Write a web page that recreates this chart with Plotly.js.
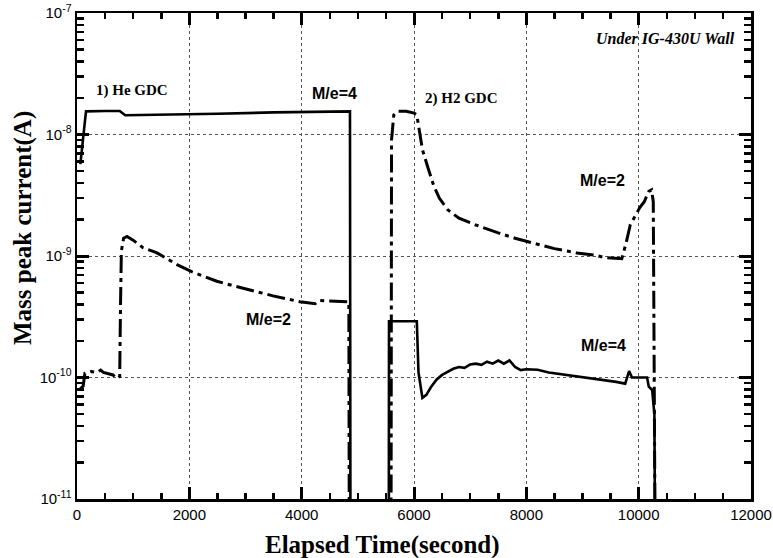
<!DOCTYPE html>
<html>
<head>
<meta charset="utf-8">
<script src="https://cdn.plot.ly/plotly-3.0.1.min.js"></script>
<style>html,body{margin:0;padding:0;background:#fff;}#chart{width:773px;height:558px;}</style>
</head>
<body>
<div id="chart"></div>
<script>
// M/e=4 (solid) : time (s) and current (A); null separates the He and H2 phases
const timeM4 = [60, 110, 160, 500, 760, 860, 1500, 2500, 3500, 4300, 4860, 4870, null,
  5550, 5555, 6050, 6080, 6150, 6220, 6300, 6400, 6500, 6600, 6700, 6800, 6900, 7000, 7100,
  7200, 7300, 7400, 7500, 7600, 7700, 7800, 7900, 8000, 8200, 8400, 8600, 8800, 9000, 9200,
  9400, 9600, 9760, 9830, 9880, 10150, 10180, 10240, 10280, 10300];
const currM4 = [5.7e-9, 9e-9, 1.55e-8, 1.56e-8, 1.56e-8, 1.44e-8, 1.45e-8, 1.48e-8, 1.52e-8, 1.54e-8, 1.55e-8, 1e-12, null,
  1e-12, 2.9e-10, 2.9e-10, 1.1e-10, 6.8e-11, 7.2e-11, 8.3e-11, 9.6e-11, 1.05e-10, 1.12e-10, 1.18e-10, 1.22e-10, 1.2e-10, 1.28e-10, 1.3e-10,
  1.27e-10, 1.35e-10, 1.3e-10, 1.38e-10, 1.3e-10, 1.38e-10, 1.22e-10, 1.15e-10, 1.17e-10, 1.16e-10, 1.1e-10, 1.07e-10, 1.04e-10, 1.0e-10, 9.8e-11,
  9.5e-11, 9.2e-11, 8.9e-11, 1.13e-10, 1.0e-10, 1.0e-10, 8.4e-11, 7.9e-11, 5e-11, 1e-12];

// M/e=2 (dash-dot)
const timeM2 = [50, 110, 140, 250, 350, 420, 470, 640, 710, 760, 775, 790, 830, 890, 1000, 1175, 1425, 1780,
  2050, 2490, 2780, 3260, 3490, 3970, 4240, 4300, 4680, 4840, 4850, null,
  5590, 5600, 5640, 5700, 5860, 6000, 6050, 6100, 6150, 6250, 6350, 6450, 6600, 6800, 7100, 7500, 7800,
  8200, 8500, 8900, 9200, 9400, 9600, 9700, 9780, 9850, 9930, 10020, 10100, 10180, 10230, 10260, 10300];
const currM2 = [8e-11, 8.5e-11, 1.08e-10, 1.12e-10, 1.1e-10, 1.15e-10, 1.1e-10, 1.05e-10, 9.8e-11, 1.02e-10, 4e-10, 1.1e-9, 1.4e-9, 1.45e-9, 1.35e-9, 1.17e-9, 1.06e-9, 8.5e-10,
  7.4e-10, 6.2e-10, 5.7e-10, 5.0e-10, 4.7e-10, 4.2e-10, 4.05e-10, 4.3e-10, 4.2e-10, 4.2e-10, 1e-12, null,
  1e-12, 9e-9, 1.45e-8, 1.55e-8, 1.55e-8, 1.5e-8, 1.45e-8, 1.0e-8, 7.5e-9, 5.3e-9, 3.8e-9, 3.0e-9, 2.4e-9, 2.05e-9, 1.8e-9, 1.55e-9, 1.4e-9,
  1.25e-9, 1.15e-9, 1.06e-9, 1.02e-9, 9.7e-10, 9.5e-10, 9.5e-10, 1.3e-9, 1.8e-9, 2.1e-9, 2.5e-9, 2.8e-9, 3.4e-9, 3.5e-9, 2.8e-9, 1e-12];

// axis ticks
const xTickVals = [0, 2000, 4000, 6000, 8000, 10000, 12000];
const xTickText = ['0', '2000', '4000', '6000', '8000', '10000', '12000'];
const yTickVals = [1e-11, 1e-10, 1e-9, 1e-8, 1e-7];
const yTickText = ['10<sup>-11</sup>', '10<sup>-10</sup>', '10<sup>-9</sup>', '10<sup>-8</sup>', '10<sup>-7</sup>'];
const xMinorVals = [];
for (let v = 500; v < 12000; v += 500) if (v % 2000 !== 0) xMinorVals.push(v);
const yMinorVals = [];
[-11, -10, -9, -8].forEach(e => { for (let m = 2; m <= 9; m++) yMinorVals.push(m * Math.pow(10, e)); });

const sans = 'Liberation Sans, Arial, sans-serif';
const serif = 'Liberation Serif, Times New Roman, serif';

const traces = [
  {x: timeM4, y: currM4, type: 'scatter', mode: 'lines', connectgaps: false,
   line: {color: '#000', width: 2.6}, hoverinfo: 'skip'},
  {x: timeM2, y: currM2, type: 'scatter', mode: 'lines', connectgaps: false,
   line: {color: '#000', width: 3, dash: '18px,5px,4px,5px'}, hoverinfo: 'skip'},
  // invisible carrier trace so that the minor-tick axes are drawn
  {x: [xMinorVals[0]], y: [yMinorVals[0]], xaxis: 'x2', yaxis: 'y2', type: 'scatter', mode: 'markers',
   marker: {opacity: 0}, hoverinfo: 'skip', showlegend: false}
];

// plot area in pixels: left 77, right 751, top 13, bottom 499
const L = 77, R = 751, T = 13, B = 499;
const px = x => (x - L) / (R - L);
const py = y => (B - y) / (B - T);

function ann(text, x, y, font, extra) {
  return Object.assign({text: text, xref: 'paper', yref: 'paper', x: px(x), y: py(y),
    showarrow: false, xanchor: 'center', yanchor: 'middle', font: font}, extra || {});
}
const labFont = {family: sans, size: 16, weight: 'bold', color: '#000'};
const gdcFont = {family: serif, size: 15, weight: 'bold', color: '#000'};
const tickFont = {family: sans, size: 15, color: '#000'};

const layout = {
  width: 773, height: 558,
  margin: {l: L, r: 773 - R, t: T, b: 558 - B, pad: 0},
  paper_bgcolor: '#fff', plot_bgcolor: '#fff',
  showlegend: false,
  font: {family: sans, color: '#000'},
  xaxis: {
    range: [0, 12000], tickmode: 'array', tickvals: xTickVals, ticktext: xTickText,
    ticks: 'inside', ticklen: 12, tickwidth: 3, tickcolor: '#000',
    showline: true, linewidth: 2.5, linecolor: '#000', mirror: 'allticks',
    showgrid: true, gridcolor: '#555', griddash: 'dot', gridwidth: 1, zeroline: false,
    tickfont: tickFont
  },
  yaxis: {
    type: 'log', range: [-11, -7], tickmode: 'array', tickvals: yTickVals, ticktext: yTickText,
    ticks: 'inside', ticklen: 12, tickwidth: 3, tickcolor: '#000',
    showline: true, linewidth: 2.5, linecolor: '#000', mirror: 'allticks',
    showgrid: true, gridcolor: '#555', griddash: 'dot', gridwidth: 1, zeroline: false,
    tickfont: tickFont
  },
  xaxis2: {
    overlaying: 'x', anchor: 'y2', range: [0, 12000], tickmode: 'array', tickvals: xMinorVals,
    ticks: 'inside', ticklen: 6, tickwidth: 2.5, tickcolor: '#000', showticklabels: false,
    showline: false, mirror: 'allticks', showgrid: false, zeroline: false
  },
  yaxis2: {
    overlaying: 'y', anchor: 'x2', type: 'log', range: [-11, -7], tickmode: 'array', tickvals: yMinorVals,
    ticks: 'inside', ticklen: 7, tickwidth: 2.5, tickcolor: '#000', showticklabels: false,
    showline: false, mirror: 'allticks', showgrid: false, zeroline: false
  },
  annotations: [
    ann('Elapsed Time(second)', 382, 545, {family: serif, size: 25, weight: 'bold', color: '#000'}),
    ann('Mass peak current(A)', 23, 228, {family: serif, size: 25, weight: 'bold', color: '#000'}, {textangle: -90}),
    ann('1) He GDC', 132, 90, gdcFont),
    ann('2) H2 GDC', 461, 99, gdcFont),
    ann('M/e=4', 334, 93, labFont),
    ann('M/e=2', 602, 180, labFont),
    ann('M/e=2', 268, 319, labFont),
    ann('M/e=4', 603, 345, labFont),
    ann('Under IG-430U Wall', 737, 38, {family: serif, size: 16, weight: 'bold', style: 'italic', color: '#000'}, {xanchor: 'right'})
  ]
};

Plotly.newPlot('chart', traces, layout, {staticPlot: true, displayModeBar: false});
</script>
</body>
</html>
